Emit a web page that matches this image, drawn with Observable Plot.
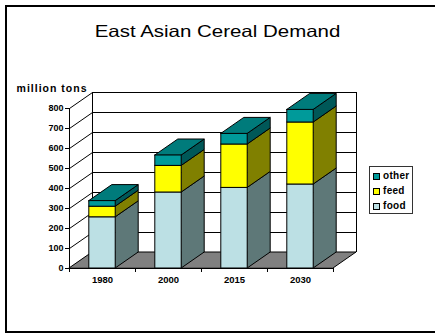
<!DOCTYPE html>
<html>
<head>
<meta charset="utf-8">
<script src="https://cdn.jsdelivr.net/npm/d3@7"></script>
<script src="https://cdn.jsdelivr.net/npm/@observablehq/plot@0.6"></script>
<style>
  html, body { margin: 0; padding: 0; background: #fff; }
  #chart { position: relative; width: 435px; height: 333px; overflow: hidden;
           font-family: "Liberation Sans", Arial, sans-serif; color: #000; }
  #frame { position: absolute; left: 5px; top: 5px; width: 440px; height: 324px;
           border: 2px solid #000; pointer-events: none; z-index: 3; }
  #title { position: relative; height: 60px; }
  #title span { position: absolute; left: 0; width: 435px; top: 23px; text-align: center;
                font-size: 16.5px; line-height: 16.5px; transform: scaleX(1.24); }
  #plot { position: absolute; left: 0; top: 60px; }
  #legend { position: absolute; left: 369px; top: 166px; width: 42px; height: 46px;
            border: 1px solid #333; background: #fff; z-index: 2; }
  #legend .sw { position: absolute; left: 3px; width: 5px; height: 5px; border: 1px solid #000; }
  #legend .lb { position: absolute; left: 13px; font-size: 10px; line-height: 10px;
                font-weight: bold; letter-spacing: 0.3px; }
</style>
</head>
<body>
<div id="chart">
  <div id="title"><span>East Asian Cereal Demand</span></div>
  <div id="plot"></div>
  <div id="legend"></div>
  <div id="frame"></div>
</div>
<script>
// Cereal demand, million tons
const years = ["1980", "2000", "2015", "2030"];
const series = ["food", "feed", "other"];
const food  = [256, 380, 403, 420];
const feed  = [53, 133, 217, 310];
const other = [28, 52, 53, 63];
const yTicks = [0, 100, 200, 300, 400, 500, 600, 700, 800];
const yLabel = "million tons";

const values = {food, feed, other};

// Face colours of the 3-D columns
const faces = {
  food:  {front: "#BCE0E4", side: "#5E7878", top: "#8CB0B3"},
  feed:  {front: "#FFFF00", side: "#808000", top: "#B3B300"},
  other: {front: "#009A9A", side: "#005858", top: "#007B7B"}
};

// Depth of the 3-D box, in data units (x: categories, y: million tons)
const DX = 0.3485;
const DY = 80;
const HALF = 0.2;          // half width of a column front
const N = years.length;

// Stacked segments
const rows = [];
years.forEach((year, i) => {
  let lo = 0;
  for (const s of series) {
    const v = values[s][i];
    rows.push({year, i, series: s, lo, hi: lo + v});
    lo += v;
  }
});

// Side faces (parallelograms with vertical edges)
const sidePts = rows.flatMap(d => {
  const xr = d.i + 0.5 + HALF;
  const key = d.year + d.series;
  return [
    {key, series: d.series, x: xr, y1: d.lo, y2: d.hi},
    {key, series: d.series, x: xr + DX, y1: d.lo + DY, y2: d.hi + DY}
  ];
});

// Top faces of the uppermost segment
const tops = rows.filter(d => d.series === series[series.length - 1]);
const topPts = tops.flatMap(d => {
  const xl = d.i + 0.5 - HALF, xr = d.i + 0.5 + HALF;
  return [
    {key: d.year, series: d.series, y: d.hi, x1: xl, x2: xr},
    {key: d.year, series: d.series, y: d.hi + DY, x1: xl + DX, x2: xr + DX}
  ];
});

const floorPts = [
  {y: 0, x1: 0, x2: N},
  {y: DY, x1: DX, x2: N + DX}
];

const plot = Plot.plot({
  width: 435,
  height: 273,
  marginLeft: 69,
  marginRight: 79,
  marginTop: 32,
  marginBottom: 65,
  style: {fontFamily: "Liberation Sans, Arial, sans-serif", fontSize: "9px", color: "#000", background: "transparent", overflow: "visible"},
  x: {type: "linear", domain: [0, N + DX]},
  y: {domain: [0, 800 + DY]},
  marks: [
    // back wall grid and edges
    Plot.ruleY(yTicks, {y: d => d + DY, x1: DX, x2: N + DX, stroke: "#000", strokeWidth: 1}),
    Plot.ruleX([DX, N + DX], {y1: DY, y2: 800 + DY, stroke: "#000"}),
    // side wall grid
    Plot.link(yTicks, {x1: 0, y1: d => d, x2: DX, y2: d => d + DY, stroke: "#000"}),
    // floor
    Plot.areaX(floorPts, {y: "y", x1: "x1", x2: "x2", fill: "#808080", stroke: "#000"}),
    // front axis lines
    Plot.ruleX([0], {y1: 0, y2: 800, stroke: "#000"}),
    Plot.ruleY([0], {x1: 0, x2: N, stroke: "#000"}),
    // columns: sides, tops, fronts
    ...series.map(s => Plot.areaY(sidePts.filter(d => d.series === s),
      {x: "x", y1: "y1", y2: "y2", z: "key", fill: faces[s].side, stroke: "#000", strokeWidth: 1})),
    ...series.map(s => Plot.areaX(topPts.filter(d => d.series === s),
      {y: "y", x1: "x1", x2: "x2", z: "key", fill: faces[s].top, stroke: "#000", strokeWidth: 1})),
    ...series.map(s => Plot.rect(rows.filter(d => d.series === s),
      {x1: d => d.i + 0.5 - HALF, x2: d => d.i + 0.5 + HALF, y1: "lo", y2: "hi",
       fill: faces[s].front, stroke: "#000", strokeWidth: 1})),
    // axes
    Plot.axisY(yTicks, {tickSize: 4, tickPadding: 2, label: null, fontWeight: "bold", fontSize: 9}),
    Plot.axisX(years.map((_, i) => i + 0.5), {tickSize: 0, tickPadding: 8, label: null,
      tickFormat: d => years[Math.floor(d)], fontWeight: "bold", fontSize: 9.5}),
    Plot.axisX(d3.range(N + 1), {tickSize: 4, label: null, tickFormat: () => ""}),
    Plot.text([yLabel], {frameAnchor: "top-left", dx: 18, dy: -1, textAnchor: "end",
      lineAnchor: "bottom", fontWeight: "bold", fontSize: 10.5})
  ]
});
// the unit label is set a little wider
d3.select(plot).selectAll("text")
  .filter(function() { return this.textContent === yLabel; })
  .style("letter-spacing", "1px");
document.getElementById("plot").appendChild(plot);

// legend, top entry first
const legend = document.getElementById("legend");
series.slice().reverse().forEach((s, k) => {
  const sw = document.createElement("div");
  sw.className = "sw";
  sw.style.top = (5.5 + k * 15.3) + "px";
  sw.style.background = faces[s].front;
  legend.appendChild(sw);
  const lb = document.createElement("div");
  lb.className = "lb";
  lb.style.top = (3.5 + k * 15.3) + "px";
  lb.textContent = s;
  legend.appendChild(lb);
});
</script>
</body>
</html>
